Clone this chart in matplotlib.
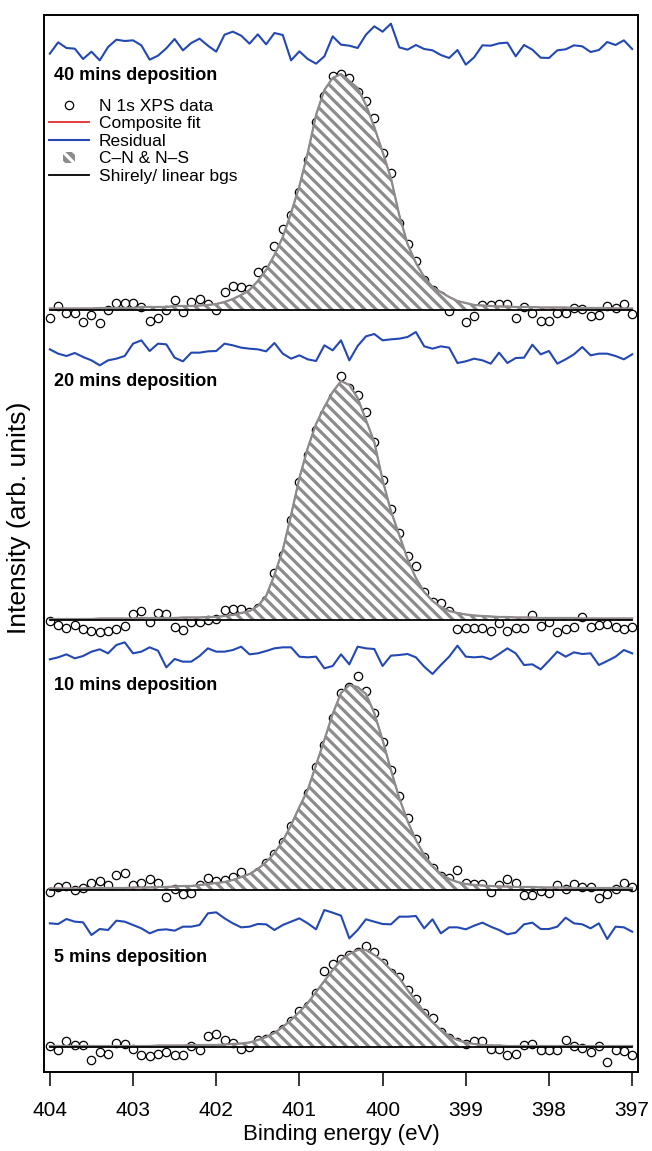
import numpy as np
import matplotlib.pyplot as plt
from matplotlib.lines import Line2D
from matplotlib.patches import Patch, Rectangle
from matplotlib.legend_handler import HandlerPatch

plt.rcParams['font.family'] = ['Liberation Sans', 'DejaVu Sans']
plt.rcParams['hatch.linewidth'] = 2.3
plt.rcParams['hatch.color'] = '#8c8c8c'

# binding energy grid of the scans (eV), 0.1 eV step
energy = np.round(np.linspace(404.0, 397.0, 71), 2)

# N 1s data, above background (arb. units)
data_40 = [-8, 4, -3, -3, -12, -5, -13, 0, 7, 7,
           7, 3, -11, -8, 0, 10, -2, 8, 11, 6,
           0, 18, 24, 23, 21, 38, 40, 64, 81, 95,
           118, 150, 188, 214, 234, 236, 232, 218, 209, 192,
           157, 137, 87, 66, 49, 30, 20, 14, -1, 5,
           -12, -6, 5, 5, 6, 6, -8, 3, -3, -11,
           -11, -3, -3, 2, 1, -6, -5, 4, 2, 6, -4]
data_20 = [-1, -5, -8, -5, -9, -11, -12, -11, -9, -6,
           6, 9, -2, 7, 6, -7, -10, -2, -2, 0,
           1, 10, 11, 11, 8, 12, 20, 47, 65, 100,
           138, 165, 190, 206, 223, 244, 232, 225, 208, 178,
           140, 111, 87, 64, 54, 28, 18, 17, 9, -9,
           -8, -8, -8, -11, -3, -11, -8, -8, 5, -6,
           -2, -12, -9, -7, 3, -7, -5, -4, -7, -9, -7]
data_10 = [-2, 3, 4, 0, 2, 7, 9, 5, 15, 17,
           5, 7, 11, 7, -7, 1, -4, -3, 5, 12,
           9, 10, 13, 18, 12, 18, 27, 36, 48, 64,
           74, 97, 123, 145, 172, 197, 203, 214, 199, 177,
           148, 120, 94, 72, 51, 33, 22, 14, 12, 20,
           7, 6, 6, -2, 5, 11, 7, -5, -5, -1,
           -3, 5, 1, 6, 3, 3, -8, -4, 1, 7, 3]
data_5 = [1, -3, 6, 2, 2, -13, -5, -7, 4, 3,
          -2, -8, -9, -7, -5, -8, -8, 1, -3, 11,
          13, 7, 4, -2, 0, 7, 8, 12, 18, 26,
          36, 41, 54, 76, 83, 88, 92, 95, 101, 95,
          84, 74, 70, 57, 48, 34, 29, 15, 9, 5,
          3, 6, 6, -2, -2, -8, -7, 2, 3, -3,
          -3, -3, 7, 1, -1, -5, 1, -15, -3, -4, -8]

# C-N & N-S component (= composite fit)
fit_40 = [1.5, 1.5, 1.5, 1.5, 1.5, 1.5, 2, 2, 2, 2,
          2, 3, 3, 3, 3, 4, 4, 4, 4.5, 5,
          6, 8, 11, 15, 20, 29, 40, 55, 73, 97,
          124, 157, 195, 220, 232, 236, 229, 222, 205, 183,
          158, 132, 95, 66, 47, 33, 23, 18, 13, 9,
          7, 5, 4.5, 4, 3.5, 3.5, 3, 3, 3, 2.5,
          2.5, 2.5, 2.5, 2, 2, 2, 2, 2, 1.5, 1.5, 1.5]
fit_20 = [1, 1, 1, 1, 1, 1, 1.5, 1.5, 1.5, 1.5,
          1.5, 2, 2, 2, 2, 2, 2.5, 2.5, 2.5, 3,
          3, 4, 5, 7, 9, 14, 24, 45, 70, 105,
          142, 172, 196, 213, 228, 239, 235, 222, 200, 178,
          140, 109, 85, 61, 42, 28, 19, 13, 9, 7,
          5.5, 4.5, 4, 3.5, 3, 3, 2.5, 2.5, 2.5, 2,
          2, 2, 2, 2, 1.5, 1.5, 1.5, 1.5, 1.5, 1.5, 1.5]
fit_10 = [1.5, 1.5, 1.5, 1.5, 1.5, 2, 2, 2, 2, 2,
          2.5, 2.5, 2.5, 3, 3, 3.5, 4, 4, 5, 6,
          7, 8, 10, 13, 16, 21, 28, 37, 49, 65,
          83, 100, 125, 150, 176, 197, 205, 203, 196, 177,
          150, 120, 92, 69, 50, 35, 24, 16, 11, 8,
          6, 5, 4.5, 4, 3.5, 3.5, 3, 3, 3, 2.5,
          2.5, 2.5, 2.5, 2, 2, 2, 2, 2, 2, 2, 2]
fit_5 = [1, 1, 1, 1, 1, 1, 1, 1, 1, 1,
         1, 1, 1, 1.5, 1.5, 1.5, 1.5, 2, 2, 2,
         2, 2.5, 3, 3.5, 4.5, 7, 10, 14, 20, 27,
         35, 44, 55, 66, 77, 87, 93, 97, 97, 92,
         86, 77, 69, 57, 46, 35, 25, 17, 11, 7,
         4.5, 3, 2, 1.5, 1.5, 1, 1, 1, 1, 1,
         1, 1, 1, 1, 1, 1, 1, 1, 1, 1, 1]

# residuals (data - fit), unscaled
resid_40 = [-20, 14, -3, -5, -36, -14, -40, 0, 22, 18,
            20, 5, -38, -26, -4, 24, -10, 12, 25, 4,
            -14, 37, 46, 34, 10, 38, 8, 42, 36, -40,
            -13, -36, -50, -28, 32, 7, 4, -3, 37, 62,
            46, 70, -1, -8, 6, -6, -10, -24, -33, -9,
            -53, -31, 5, 4, 11, 13, -28, 6, -8, -32,
            -33, -10, -7, 5, 2, -15, -9, 15, 6, 20, -6]
resid_20 = [8, -5, -12, -3, -15, -25, -40, -25, -20, -12,
            25, 35, 3, 25, 23, -17, -28, -2, -2, 2,
            3, 25, 20, 13, 10, 8, 2, 27, -5, -20,
            -10, -22, -27, 20, 5, 35, -25, 18, 47, 54,
            35, 38, 40, 45, 60, 17, 10, 17, 13, -33,
            -28, -20, -25, -35, -2, -33, -18, -17, 22, -7,
            3, -35, -22, -7, 15, -10, -5, -5, -12, -22, -7]
resid_10 = [-13, -7, 2, -10, -3, 10, 17, 5, 30, 38,
            5, 10, 23, 13, -37, -12, -20, -20, -3, 20,
            10, 10, 15, 25, 2, 5, 12, 20, 23, 23,
            -5, -7, -5, -40, -33, 2, -28, 25, 20, 18,
            -33, -2, 0, 3, -7, -35, -57, -30, -5, 28,
            -5, -7, -5, -13, 3, 20, 5, -30, -28, -43,
            -17, 10, -5, 8, 3, 5, -30, -18, -5, 15, 5]
resid_5 = [5, 3, 18, 10, 8, -30, -12, -15, 13, 10,
           0, -10, -25, -15, -13, -17, -5, -5, 0, 35,
           38, 20, 5, -7, -5, 3, 2, -15, 0, 10,
           20, 5, -13, 45, 37, 28, -40, -15, 17, 10,
           3, 2, 25, 25, 27, -10, 17, -25, -7, -7,
           -13, -2, 7, -5, -15, -28, -23, 2, 7, -12,
           -12, -5, 22, 5, 2, -10, 5, -42, -5, -7, -20]

labels = ['40 mins deposition', '20 mins deposition', '10 mins deposition', '5 mins deposition']
datas = [data_40, data_20, data_10, data_5]
fits = [fit_40, fit_20, fit_10, fit_5]
resids = [resid_40, resid_20, resid_10, resid_5]

# stacking offsets
base_off = [762, 452, 182, 25]
resid_off = [1025, 720, 417, 147]
label_y = [996, 691, 386, 115]
res_scale = 1 / 3

gray = '#8c8c8c'
blue = '#2348b4'
red = '#e32b2b'

fig = plt.figure(figsize=(6.52, 11.51), dpi=100)
ax = fig.add_axes([44 / 652, 79 / 1151, 594 / 652, 1057 / 1151])

for i in range(4):
    b = base_off[i]
    d = np.array(datas[i]) + b
    f = np.array(fits[i]) + b
    r = np.array(resids[i]) * res_scale + resid_off[i]
    ax.plot(energy, d, 'o', ms=6, mfc='none', mec='black', mew=0.9, zorder=2)
    ax.fill_between(energy, b, f, facecolor='white', edgecolor=gray, linewidth=0,
                    hatch='\\\\\\', zorder=3)
    ax.plot(energy, f, color=red, lw=1.0, zorder=3.5)
    ax.plot(energy, f, color=gray, lw=1.6, zorder=4)
    ax.plot(energy, np.full_like(energy, b), color='black', lw=1.3, zorder=4.5)
    ax.plot(energy, r, color=blue, lw=1.5, zorder=2)
    ax.text(403.95, label_y[i], labels[i], fontsize=13, fontweight='bold',
            ha='left', va='center')

ax.set_xlim(404.07, 396.93)
ax.set_ylim(0, 1057)
ax.set_yticks([])
ax.set_xticks([404, 403, 402, 401, 400, 399, 398, 397])
ax.tick_params(axis='x', direction='out', length=10, width=1.1, labelsize=15, pad=11)
for s in ax.spines.values():
    s.set_linewidth(1.4)
ax.set_xlabel('Binding energy (eV)', fontsize=16, labelpad=3)
fig.text(19 / 652, 1 - 518 / 1151, 'Intensity (arb. units)', rotation=90,
         ha='center', va='center', fontsize=19)


def small_box(legend, orig_handle, xdescent, ydescent, width, height, fontsize):
    w = width * 0.3
    h = height * 0.95
    return Rectangle((xdescent + (width - w) / 2, ydescent + (height - h) / 2), w, h)


handles = [
    Line2D([], [], ls='none', marker='o', ms=6, mfc='none', mec='black', mew=0.9),
    Line2D([], [], color=red, lw=1.3),
    Line2D([], [], color=blue, lw=1.5),
    Patch(facecolor=gray, edgecolor='white', hatch='\\\\\\', lw=0),
    Line2D([], [], color='black', lw=1.3),
]
names = ['N 1s XPS data', 'Composite fit', 'Residual', 'C\u2013N & N\u2013S', 'Shirely/ linear bgs']
ax.legend(handles, names, loc='upper left', bbox_to_anchor=(0.008, 0.921), frameon=False,
          fontsize=12.5, handlelength=2.3, handletextpad=0.6, labelspacing=0.14,
          borderpad=0, borderaxespad=0,
          handler_map={Patch: HandlerPatch(patch_func=small_box)})

fig.savefig('out.png', dpi=100)
